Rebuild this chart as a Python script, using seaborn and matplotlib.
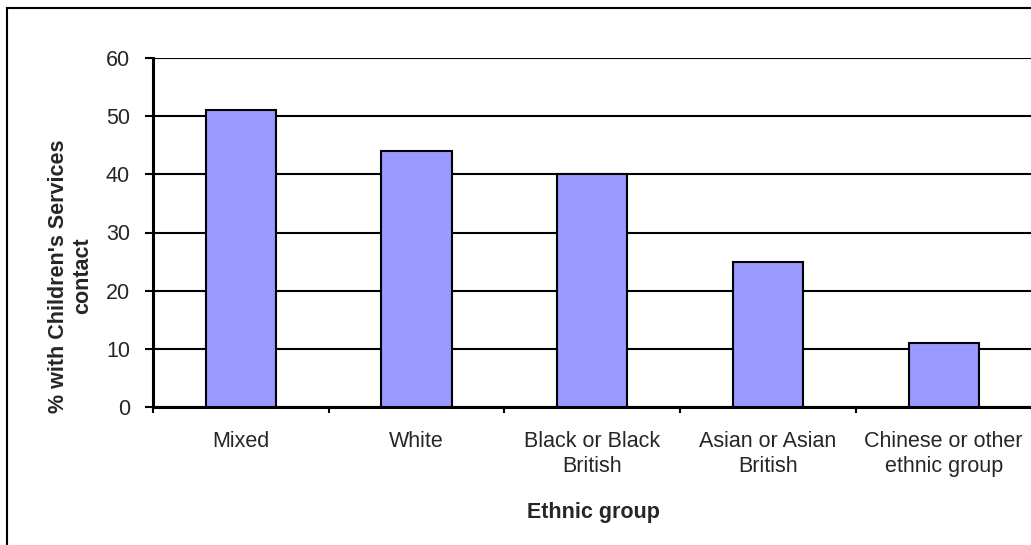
import matplotlib
matplotlib.use("Agg")
import matplotlib.pyplot as plt
import seaborn as sns
import pandas as pd
from matplotlib.patches import Rectangle

categories = ["Mixed", "White", "Black or Black\nBritish", "Asian or Asian\nBritish", "Chinese or other\nethnic group"]
values = [51, 44, 40, 25, 11]
y_ticks = [0, 10, 20, 30, 40, 50, 60]

sns.set_theme(style="white")
plt.rcParams['font.family'] = ['Liberation Sans', 'DejaVu Sans']

FS = 15.5
W, H = 1031, 545
fig = plt.figure(figsize=(W / 100, H / 100), dpi=100)
ax = fig.add_axes([153 / W, 1 - 407 / H, (1031.5 - 153) / W, (407 - 58) / H])

df = pd.DataFrame({"group": categories, "value": values})
sns.barplot(data=df, x="group", y="value", color="#9999FF", saturation=1,
            width=0.4, edgecolor="black", linewidth=1.5, ax=ax, zorder=3)

ax.set_ylim(0, 60)
ax.set_xlim(-0.5, len(categories) - 0.5)
ax.set_yticks(y_ticks)
ax.set_yticklabels([str(t) for t in y_ticks], fontsize=FS)
ax.yaxis.grid(True, color="black", linewidth=1.5, zorder=0)
ax.xaxis.grid(False)
ax.set_axisbelow(True)

ax.set_xticks(range(len(categories)))
ax.set_xticklabels(categories, fontsize=FS, linespacing=1.3)
ax.tick_params(axis="x", which="major", length=0, pad=17)
ax.set_xticks([i - 0.5 for i in range(len(categories) + 1)], minor=True)
ax.tick_params(axis="x", which="minor", length=4, width=1.5, color="black", direction="out", bottom=True)
ax.tick_params(axis="y", length=6, width=1.5, color="black", direction="out", left=True, pad=10.5)

for s in ["top", "right"]:
    ax.spines[s].set_visible(False)
for s in ["left", "bottom"]:
    ax.spines[s].set_visible(True)
    ax.spines[s].set_color("black")
    ax.spines[s].set_linewidth(2.2)

ax.set_xlabel("Ethnic group", fontsize=FS, fontweight="bold")
ax.xaxis.set_label_coords((593 - 153) / (1031.5 - 153), -(502 - 407) / (407 - 58))
ax.set_ylabel("% with Children's Services\ncontact", fontsize=FS, fontweight="bold", linespacing=1.2)
ax.yaxis.set_label_coords(-(153 - 93) / (1031.5 - 153), (407 - 276) / (407 - 58))

fig.patches.append(Rectangle((7 / W, -0.1), 1.2, 1 - 8 / H + 0.1, transform=fig.transFigure,
                             fill=False, edgecolor="black", linewidth=1.5, zorder=0))

fig.savefig("out.png", dpi=100)
